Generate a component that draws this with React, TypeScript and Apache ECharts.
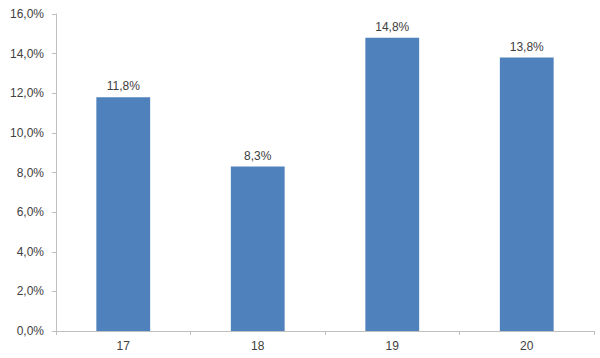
import React, { useEffect, useRef } from "react";
import * as echarts from "echarts";

const categories = ["17", "18", "19", "20"];
const values = [11.8, 8.3, 14.8, 13.8];

const fmt = (v: number, d: number) => v.toFixed(d).replace(".", ",") + "%";

export default function App() {
  const ref = useRef<HTMLDivElement>(null);
  useEffect(() => {
    const chart = echarts.init(ref.current!, null, { renderer: "svg" });
    const axisColor = "#BFBFBF";
    const textColor = "#404040";
    const font = "Liberation Sans, Arial, sans-serif";
    chart.setOption({
      animation: false,
      grid: { left: 56, right: 6, top: 14, bottom: 27, containLabel: false },
      xAxis: {
        type: "category",
        data: categories,
        axisLine: { show: true, lineStyle: { color: axisColor, width: 1 } },
        axisTick: { show: true, alignWithLabel: false, length: 4, lineStyle: { color: axisColor } },
        axisLabel: { color: textColor, fontSize: 12, fontFamily: font, margin: 9 },
        splitLine: { show: false },
      },
      yAxis: {
        type: "value",
        min: 0,
        max: 16,
        interval: 2,
        axisLine: { show: true, lineStyle: { color: axisColor, width: 1 } },
        axisTick: { show: true, length: 4, lineStyle: { color: axisColor } },
        axisLabel: {
          color: textColor,
          fontSize: 12,
          fontFamily: font,
          margin: 12,
          formatter: (v: number) => fmt(v, 1),
        },
        splitLine: { show: false },
      },
      series: [
        {
          type: "bar",
          data: values,
          barWidth: "40%",
          itemStyle: { color: "#4F81BD" },
          label: {
            show: true,
            position: "top",
            distance: 5,
            color: textColor,
            fontSize: 12,
            fontFamily: font,
            formatter: (p: any) => fmt(p.value, 1),
          },
        },
      ],
    });
    return () => chart.dispose();
  }, []);
  return <div ref={ref} style={{ width: 600, height: 358, position: "absolute", left: 0, top: 0 }} />;
}
